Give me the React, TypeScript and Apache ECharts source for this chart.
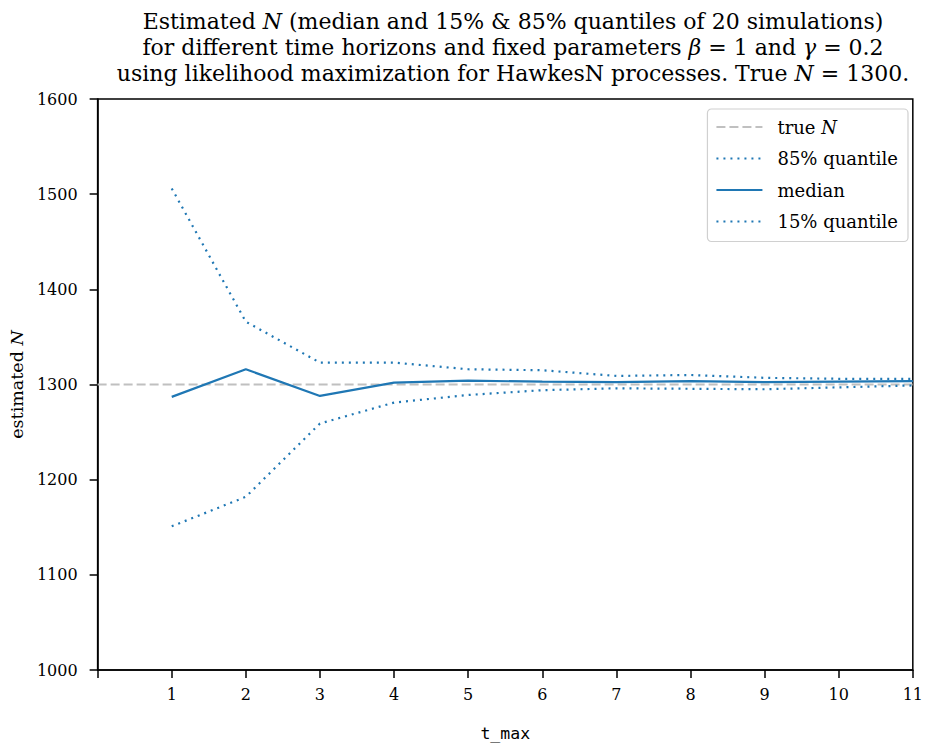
import React, { useEffect, useRef } from "react";
import * as echarts from "echarts";

const tMax = [1, 2, 3, 4, 5, 6, 7, 8, 9, 10, 11];
const q85 = [1506, 1366, 1323, 1323, 1316, 1315, 1309, 1310, 1307, 1306, 1306];
const median = [1287, 1316, 1288, 1302, 1304, 1303, 1302.5, 1303.5, 1302.5, 1303, 1303.5];
const q15 = [1151, 1182, 1259, 1281, 1289, 1294, 1296, 1295.5, 1295, 1297, 1299];
const trueN = 1300;
const xRange = [0, 11];
const yTicks = [1000, 1100, 1200, 1300, 1400, 1500, 1600];

const SERIF = "'DejaVu Serif', 'Liberation Serif', serif";
const MONO = "'DejaVu Sans Mono', 'Liberation Mono', monospace";
const BLUE = "#1f77b4";
const W = 926;
const H = 747;

export default function App() {
  const ref = useRef<HTMLDivElement>(null);
  useEffect(() => {
    if (!ref.current) return;
    const chart = echarts.init(ref.current, undefined, { renderer: "svg", width: W, height: H });
    const pair = (arr: number[]) => tMax.map((t, i) => [t, arr[i]]);
    chart.setOption({
      animation: false,
      backgroundColor: "#fff",
      title: {
        text:
          "Estimated {i|N} (median and 15% & 85% quantiles of 20 simulations)\n" +
          "for different time horizons and fixed parameters {i|β} = 1 and {i|γ} = 0.2\n" +
          "using likelihood maximization for HawkesN processes. True {i|N} = 1300.",
        left: 508,
        top: 3,
        textAlign: "center",
        textStyle: {
          fontFamily: SERIF,
          fontSize: 22,
          fontWeight: "normal",
          color: "#000",
          lineHeight: 26,
          rich: {
            i: { fontFamily: SERIF, fontStyle: "italic", fontSize: 22, color: "#000", lineHeight: 26 },
          },
        },
      },
      grid: {
        left: 97,
        right: 8,
        top: 99,
        bottom: 68,
        show: true,
        borderColor: "#000",
        borderWidth: 1.5,
        containLabel: false,
      },
      legend: {
        orient: "vertical",
        right: 18,
        top: 109,
        padding: [8, 10, 10, 8],
        itemGap: 11.5,
        itemWidth: 46,
        itemHeight: 14,
        borderColor: "#d0d0d0",
        borderWidth: 1.2,
        borderRadius: 4,
        backgroundColor: "#fff",
        itemStyle: { opacity: 0, color: "rgba(0,0,0,0)", borderWidth: 0 },
        data: ["true N", "85% quantile", "median", "15% quantile"],
        formatter: (name: string) => (name === "true N" ? "true {i|N}" : name),
        textStyle: {
          fontFamily: SERIF,
          fontSize: 18,
          color: "#000",
          lineHeight: 20,
          padding: [0, 0, 0, 10],
          rich: {
            i: { fontFamily: SERIF, fontStyle: "italic", fontSize: 18, color: "#000", lineHeight: 20 },
          },
        },
      },
      xAxis: {
        type: "value",
        min: xRange[0],
        max: xRange[1],
        interval: 1,
        name: "t_max",
        nameLocation: "middle",
        nameGap: 55,
        nameTextStyle: { fontFamily: MONO, fontSize: 16.5, color: "#000" },
        axisLine: { show: true, lineStyle: { color: "#000", width: 1.5 } },
        axisTick: { show: true, inside: false, length: 8, lineStyle: { color: "#000", width: 1.5 } },
        axisLabel: {
          fontFamily: SERIF,
          fontSize: 16,
          color: "#000",
          margin: 16,
          formatter: (v: number) => (v === 0 ? "" : String(v)),
        },
        splitLine: { show: false },
      },
      yAxis: {
        type: "value",
        min: yTicks[0],
        max: yTicks[yTicks.length - 1],
        interval: 100,
        name: "estimated {i|N}",
        nameLocation: "middle",
        nameGap: 71,
        nameRotate: 90,
        nameTextStyle: {
          fontFamily: SERIF,
          fontSize: 17.5,
          color: "#000",
          rich: { i: { fontFamily: SERIF, fontStyle: "italic", fontSize: 17.5, color: "#000" } },
        },
        axisLine: { show: true, lineStyle: { color: "#000", width: 1.5 } },
        axisTick: { show: true, inside: false, length: 8, lineStyle: { color: "#000", width: 1.5 } },
        axisLabel: {
          fontFamily: SERIF,
          fontSize: 16,
          color: "#000",
          margin: 20,
          formatter: (v: number) => String(v),
        },
        splitLine: { show: false },
      },
      series: [
        {
          name: "true N",
          type: "line",
          data: [
            [xRange[0], trueN],
            [xRange[1], trueN],
          ],
          symbol: "none",
          lineStyle: { color: "#c0c0c0", width: 2.2, type: [9, 4] },
          itemStyle: { color: "#c0c0c0" },
          z: 1,
        },
        {
          name: "85% quantile",
          type: "line",
          data: pair(q85),
          symbol: "none",
          lineStyle: { color: BLUE, width: 2.2, type: [2, 5] },
          itemStyle: { color: BLUE },
          z: 2,
        },
        {
          name: "median",
          type: "line",
          data: pair(median),
          symbol: "none",
          lineStyle: { color: BLUE, width: 2.2, type: "solid" },
          itemStyle: { color: BLUE },
          z: 3,
        },
        {
          name: "15% quantile",
          type: "line",
          data: pair(q15),
          symbol: "none",
          lineStyle: { color: BLUE, width: 2.2, type: [2, 5] },
          itemStyle: { color: BLUE },
          z: 2,
        },
      ],
    });
    return () => chart.dispose();
  }, []);
  return (
    <div
      ref={ref}
      style={{ position: "fixed", left: 0, top: 0, width: W, height: H, background: "#fff" }}
    />
  );
}
